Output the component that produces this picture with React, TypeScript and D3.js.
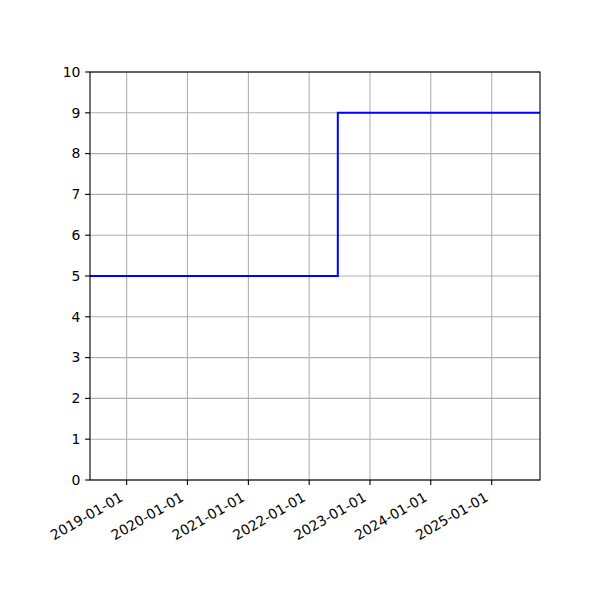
import * as d3 from 'd3';

const DATES = ['2018-05-26', '2022-06-22', '2025-10-18'];
const VALUES = [5, 9, 9];
const X_TICKS = ['2019-01-01', '2020-01-01', '2021-01-01', '2022-01-01', '2023-01-01', '2024-01-01', '2025-01-01'];
const Y_TICKS = [0, 1, 2, 3, 4, 5, 6, 7, 8, 9, 10];

const parse = d3.utcParse('%Y-%m-%d');

export default function App() {
  const W = 600;
  const H = 600;
  const margin = { top: 72, right: 60, bottom: 120, left: 90 };
  const innerW = W - margin.left - margin.right;
  const innerH = H - margin.top - margin.bottom;

  const x = d3.scaleUtc()
    .domain([parse(DATES[0])!, parse(DATES[DATES.length - 1])!])
    .range([0, innerW]);
  const y = d3.scaleLinear().domain([0, 10]).range([innerH, 0]);

  const points = DATES.map((d, i) => ({ date: parse(d)!, value: VALUES[i] }));
  const line = d3.line<{ date: Date; value: number }>()
    .x(d => x(d.date))
    .y(d => y(d.value))
    .curve(d3.curveStepAfter);

  const font = 'DejaVu Sans';
  const fs = 13.9;

  return (
    <svg width={W} height={H} style={{ position: 'absolute', left: 0, top: 0, background: '#fff' }}>
      <g transform={`translate(${margin.left},${margin.top})`}>
        {/* grid */}
        {X_TICKS.map(t => (
          <line key={`gx-${t}`} x1={x(parse(t)!)} x2={x(parse(t)!)} y1={0} y2={innerH} stroke="#b0b0b0" strokeWidth={1.1} />
        ))}
        {Y_TICKS.map(t => (
          <line key={`gy-${t}`} x1={0} x2={innerW} y1={y(t)} y2={y(t)} stroke="#b0b0b0" strokeWidth={1.1} />
        ))}

        <path d={line(points) ?? ''} fill="none" stroke="blue" strokeWidth={2} />

        {/* frame */}
        <rect x={0} y={0} width={innerW} height={innerH} fill="none" stroke="#000" strokeWidth={1.1} />

        {/* y ticks */}
        {Y_TICKS.map(t => (
          <g key={`yt-${t}`} transform={`translate(0,${y(t)})`}>
            <line x1={-4.9} x2={0} stroke="#000" strokeWidth={1.1} />
            <text x={-9.7} dy="0.35em" textAnchor="end" fontFamily={font} fontSize={fs} fill="#000">{t}</text>
          </g>
        ))}

        {/* x ticks, rotated like autofmt_xdate */}
        {X_TICKS.map(t => {
          const px = x(parse(t)!);
          return (
            <g key={`xt-${t}`}>
              <line x1={px} x2={px} y1={innerH} y2={innerH + 4.9} stroke="#000" strokeWidth={1.1} />
              <g transform={`translate(${px - 1},${innerH + 23})rotate(-30)`}>
                <text x={0} y={-3.3} textAnchor="end" fontFamily={font} fontSize={fs} fill="#000">{t}</text>
              </g>
            </g>
          );
        })}
      </g>
    </svg>
  );
}
